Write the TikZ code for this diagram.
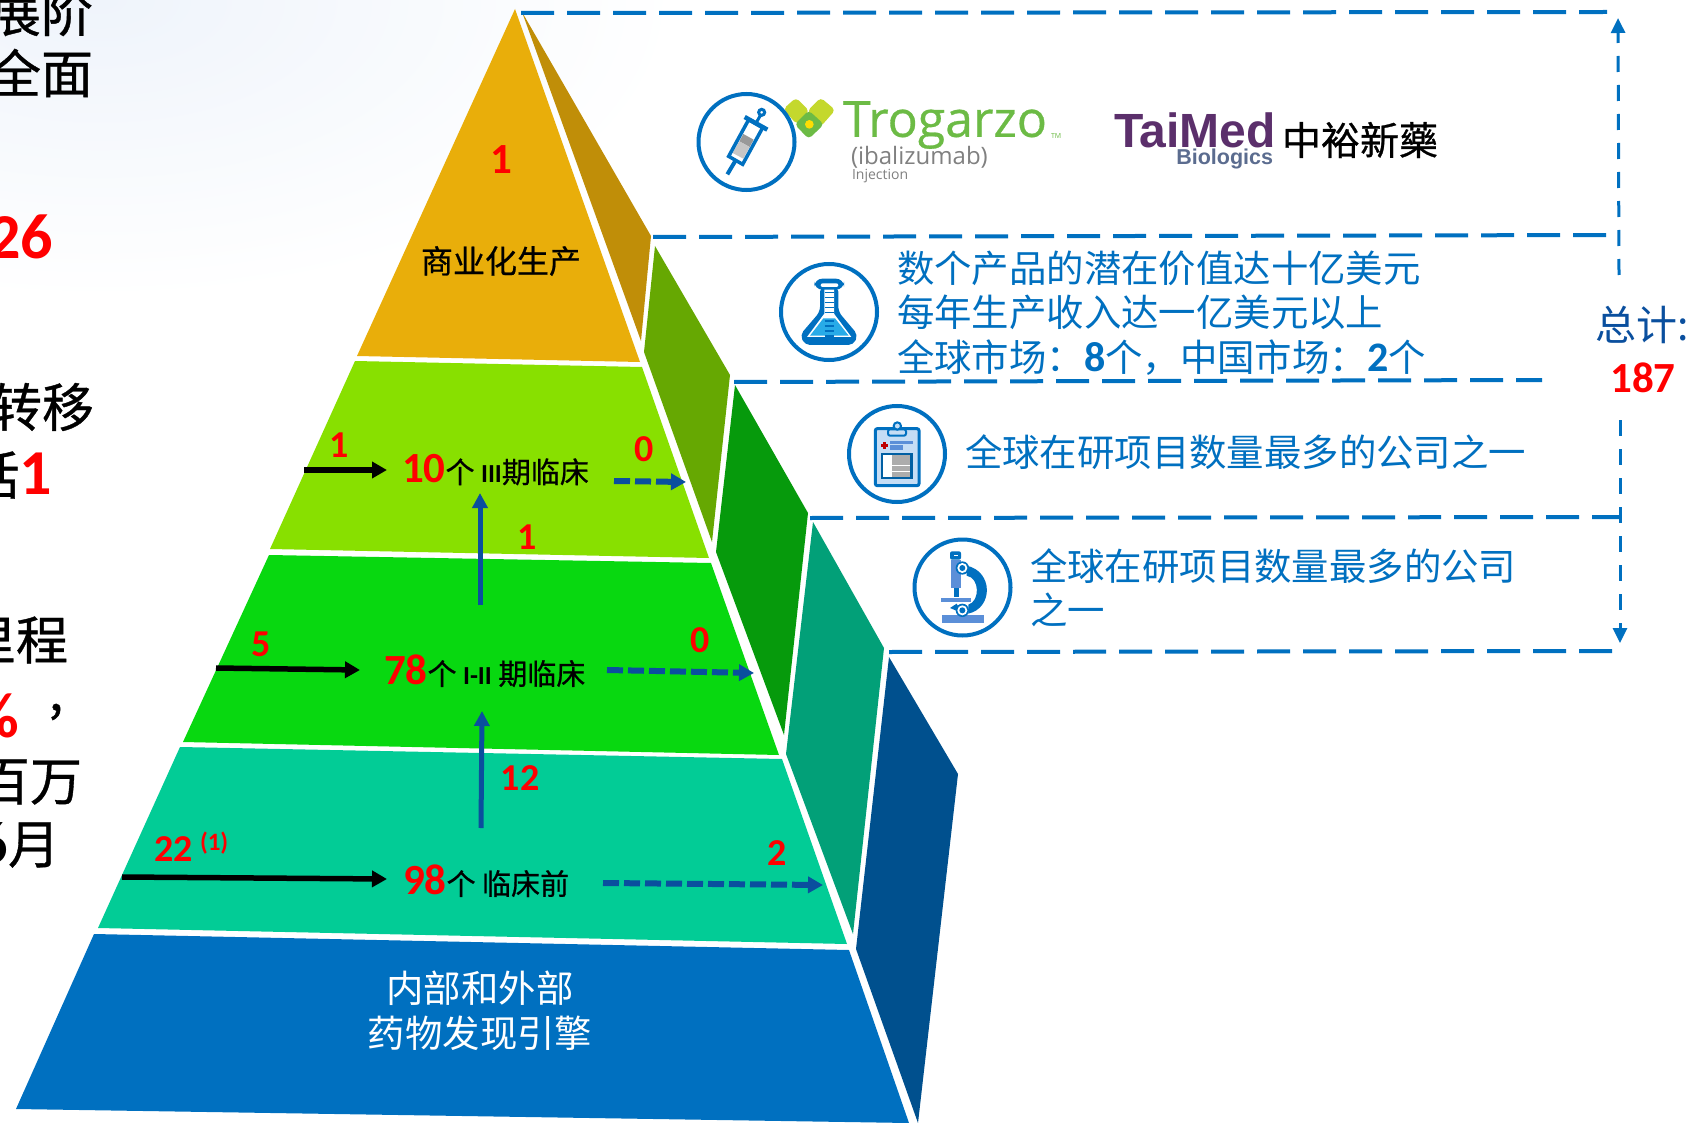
\documentclass[tikz,border=0pt]{standalone}
\usepackage{fontspec}
\usetikzlibrary{arrows.meta}
\setmainfont{Liberation Sans}
\newfontfamily\cjkf{Noto Sans CJK SC}
\newfontfamily\cjkm[FakeBold=0.7]{Noto Sans CJK SC}
\newfontfamily\numf{Carlito}
\newfontfamily\logof[FakeBold=0.6]{Open Sans}
\newfontfamily\logol{Open Sans}
\newcommand{\fsz}[1]{\fontsize{#1}{#1}\selectfont}
\definecolor{gold}{HTML}{E9AE0A}
\definecolor{goldS}{HTML}{C08E08}
\definecolor{lime}{HTML}{88E000}
\definecolor{limeS}{HTML}{66A802}
\definecolor{grn}{HTML}{08D810}
\definecolor{grnS}{HTML}{069A0C}
\definecolor{teal1}{HTML}{02CC96}
\definecolor{tealS}{HTML}{02A078}
\definecolor{blu}{HTML}{0070C0}
\definecolor{bluS}{HTML}{00508E}
\definecolor{lead}{HTML}{0070C0}
\definecolor{arr}{HTML}{0A4F9E}
\definecolor{pale}{HTML}{5B8FD8}
\definecolor{sky}{HTML}{28ABE8}
\definecolor{sheet}{HTML}{C5DDF5}
\definecolor{trog}{HTML}{6CBB45}
\definecolor{trogl}{HTML}{C4D82D}
\definecolor{tmp}{HTML}{5B2F6B}
\definecolor{tmg}{HTML}{5B6C8F}
\definecolor{haze}{HTML}{EFF4FB}
\tikzset{
  txt/.style={inner sep=0pt,outer sep=0pt},
  lefttxt/.style={txt,anchor=east,font=\cjkm\fsz{52}},
  rednum/.style={txt,text=red,font=\numf\bfseries\fsz{43}},
  rednums/.style={txt,text=red,font=\numf\bfseries\fsz{38}},
  tier/.style={txt,anchor=west,font=\cjkm\fsz{29}},
  bluetxt/.style={txt,anchor=west,text=blu,align=left,font=\cjkf\fontsize{37.4}{44.5}\selectfont},
  leader/.style={draw=lead,line width=4pt,dash pattern=on 33pt off 13pt},
  vlead/.style={draw=lead,line width=3pt,dash pattern=on 16pt off 13pt,-{Triangle[length=15pt,width=14pt]}},
  inarr/.style={draw=black,line width=5.5pt,-{Triangle[length=15pt,width=16pt]}},
  uparr/.style={draw=arr,line width=5pt,-{Triangle[length=15pt,width=15pt]}},
  outarr/.style={draw=arr,line width=6pt,dash pattern=on 16pt off 5pt,-{Triangle[length=15pt,width=16pt]}},
  ring/.style={draw=lead,line width=4pt,fill=white,circle,minimum size=96pt,inner sep=0pt},
}
\begin{document}
\begin{tikzpicture}[x=1pt,y=-1pt]
\useasboundingbox (0,0) rectangle (1697,1123);
\fill[white] (0,0) rectangle (1697,1123);
\begin{scope}
\clip (0,0) rectangle (1697,1123);
\shade[inner color=haze,outer color=white] (-480,-300) rectangle (680,300);
\end{scope}

% left, cut-off text
\node[lefttxt] (l1) at (93,12) {展阶};
\node[lefttxt] (l2) at (93,73) {全面};
\node[txt,anchor=east,text=red,font=\numf\bfseries\fsz{64}] (l3) at (53,237) {26};
\node[lefttxt] (l4) at (94,407) {转移};
\node[txt,anchor=east] (l5) at (52,475) {\cjkm\fsz{52}括{\numf\bfseries\fsz{64}\textcolor{red}{1}}};
\node[lefttxt] (l6) at (68,640) {里程};
\node[txt,anchor=east,text=red,font=\numf\bfseries\fsz{64}] (l7) at (19,716) {\%};
\node[txt,font=\cjkm\fsz{52}] (l7b) at (56,712) {,};
\node[lefttxt] (l8) at (82,782) {百万};
\node[txt,anchor=east] (l9) at (60,845) {{\numf\bfseries\fsz{60}6}{\cjkm\fsz{52}月}};

% pyramid sides
\fill[goldS] (522,12)--(651,236)--(641,341)--cycle;
\fill[limeS] (655,246)--(730,375)--(712,542)--(644,352)--cycle;
\fill[grnS] (735,385)--(808,513)--(784,735)--(716,552)--cycle;
\fill[tealS] (813,522)--(884,648)--(853,934)--(786,754)--cycle;
\fill[bluS] (889,657)--(958,774)--(918,1123)--(856,949)--cycle;
% pyramid fronts
\fill[gold] (515,9)--(640,362)--(357,356)--cycle;
\fill[lime] (355,361)--(642,367)--(709,558)--(270,549)--cycle;
\fill[grn] (269,555)--(711,563)--(779,755)--(183,742)--cycle;
\fill[teal1] (180,747)--(782,759)--(847,944)--(98,928)--cycle;
\fill[blu] (94,934)--(849,950)--(909,1123)--(16,1109)--cycle;

% leaders
\coordinate (a1) at (521,13); \coordinate (a2) at (1607,12);
\coordinate (b1) at (653,237); \coordinate (b2) at (1618,235);
\coordinate (c1) at (734,382); \coordinate (c2) at (1542,380);
\coordinate (d1) at (810,518); \coordinate (d2) at (1620,517);
\coordinate (e1) at (889,652); \coordinate (e2) at (1620,651);
\draw[leader] (a1)--(a2);
\draw[leader] (b1)--(b2);
\draw[leader] (c1)--(c2);
\draw[leader] (d1)--(d2);
\draw[leader] (e1)--(e2);
\coordinate (u1) at (1619,275); \coordinate (u2) at (1618,18);
\coordinate (v1) at (1620,420); \coordinate (v2) at (1620,643);
\draw[vlead] (u1)--(u2);
\draw[vlead] (v1)--(v2);
\node[txt,text=arr,anchor=west,font=\cjkf\fsz{41}] (total) at (1595,325) {总计:};
\node[rednum] (sum) at (1643,378) {187};

% pyramid texts
\node[rednum] (n1) at (501,160) {1};
\node[txt,font=\cjkm\fsz{32}] (comm) at (501,261) {商业化生产};

\node[rednums] (n2) at (339,445) {1};
\node[tier] (t3) at (402,470) {{\numf\bfseries\fsz{43}\textcolor{red}{10}}个 {\numf\bfseries\fsz{26}III}期临床};
\node[rednums] (n3) at (644,449) {0};
\node[rednums] (n4) at (527,537) {1};

\node[rednums] (n5) at (261,644) {5};
\node[tier] (t2) at (384,671) {{\numf\bfseries\fsz{43}\textcolor{red}{78}}个 {\numf\bfseries\fsz{26}I-II} 期临床};
\node[rednums] (n6) at (700,640) {0};
\node[rednums] (n7) at (520,778) {12};

\node[rednums,anchor=west] (n8) at (154,849) {22};
\node[txt,anchor=west,text=red,font=\numf\bfseries\fsz{25}] (n8b) at (200,843) {(1)};
\node[tier] (t1) at (403,881) {{\numf\bfseries\fsz{43}\textcolor{red}{98}}个 临床前};
\node[rednums] (n9) at (777,853) {2};

\node[txt,text=white,align=center,font=\cjkf\fontsize{37.4}{44.5}\selectfont] (base) at (480,1011) {内部和外部\\药物发现引擎};

% tier arrows
\coordinate (i3a) at (304,470); \coordinate (i3b) at (387,470);
\coordinate (i2a) at (216,668); \coordinate (i2b) at (360,670);
\coordinate (i1a) at (122,877); \coordinate (i1b) at (387,879);
\draw[inarr] (i3a)--(i3b);
\draw[inarr] (i2a)--(i2b);
\draw[inarr] (i1a)--(i1b);
\coordinate (p1a) at (480,605); \coordinate (p1b) at (480,493);
\coordinate (p2a) at (481,828); \coordinate (p2b) at (482,711);
\draw[uparr] (p1a)--(p1b);
\draw[uparr] (p2a)--(p2b);
\coordinate (o3a) at (614,481); \coordinate (o3b) at (686,482);
\coordinate (o2a) at (607,670); \coordinate (o2b) at (754,673);
\coordinate (o1a) at (603,883); \coordinate (o1b) at (823,885);
\draw[outarr] (o3a)--(o3b);
\draw[outarr] (o2a)--(o2b);
\draw[outarr] (o1a)--(o1b);

% blue texts
\node[bluetxt] (flaskt) at (897,313) {数个产品的潜在价值达十亿美元\\每年生产收入达一亿美元以上\\全球市场^^^^ff1a{\numf\bfseries\fsz{42}8}个^^^^ff0c中国市场^^^^ff1a{\numf\bfseries\fsz{42}2}个};
\node[bluetxt] (clipt) at (965,452) {全球在研项目数量最多的公司之一};
\node[bluetxt] (microt) at (1030,588) {全球在研项目数量最多的公司\\之一};

% logos
\begin{scope}[shift={(690,85)},scale=1/3]
\fill[trogl,rounded corners=4pt] (280,72)--(318,38)--(358,78)--(320,118)--cycle;
\fill[trogl,rounded corners=4pt] (352,78)--(392,38)--(436,75)--(392,125)--cycle;
\fill[trog,rounded corners=4pt] (356,76)--(402,118)--(356,162)--(314,118)--cycle;
\fill[yellow!80!orange] (358,118) circle (13);
\end{scope}
\node[txt,anchor=west,text=trog,font=\logof\fsz{50}] (trogarzo) at (843,125) {Trogarzo};
\node[txt,anchor=west,text=trog,font=\logol\fsz{7}] (tm) at (1051,136) {TM};
\node[txt,anchor=west,text=gray,font=\logol\fsz{24}] (ibal) at (851,157) {(ibalizumab)};
\node[txt,anchor=west,text=gray,font=\logol\fsz{14}] (inj) at (852,176) {Injection};
\node[txt,anchor=west,text=tmp,font=\bfseries\fsz{48}] (taimed) at (1114,130) {TaiMed};
\node[txt,anchor=east,text=tmg,font=\bfseries\fsz{21.5}] (biol) at (1273,159) {Biologics};
\node[txt,anchor=west,font=\cjkm\fsz{39}] (zyxy) at (1282,140) {中裕新藥};

% icon: syringe
\node[ring] (ic1) at (746.5,142) {};
\begin{scope}[shift={(690,85)},scale=1/3]
\draw[lead,line width=4pt] (137,226)--(112,268);
\draw[lead,line width=3pt] (197,116)--(212,90);
\draw[lead,line width=3pt,fill=white] (215,82) circle (9);
\fill[gray!80] (148,169)--(179,186)--(191,164)--(160,147)--cycle;
\fill[gray!45] (128,204)--(160,221)--(179,186)--(148,169)--cycle;
\draw[lead,line width=3.5pt] (116,214)--(158,238)--(218,128)--(176,104)--cycle;
\draw[lead,line width=4.5pt] (164,96)--(232,134);
\end{scope}

% icon: flask
\node[ring] (ic2) at (829,312) {};
\begin{scope}[shift={(770,255)},scale=1/3]
\fill[lead,rounded corners=5pt] (150,95)--(205,95)--(205,170)--(264,240)--(250,270)--(105,270)--(90,240)--(150,170)--cycle;
\fill[white] (163,100)--(192,100)--(192,176)--(244,246)--(111,246)--(163,176)--cycle;
\fill[sky] (160,190)--(195,190)--(236,242)--(120,242)--cycle;
\fill[lead,rounded corners=8pt] (133,71) rectangle (222,104);
\fill[white,rounded corners=2pt] (152,85) rectangle (205,96);
\foreach \yy in {112,127,142,157,172,198,213,228,243}
  \draw[lead,line width=1.6pt] (164,\yy)--(191,\yy);
\end{scope}

% icon: clipboard
\node[ring] (ic3) at (897,454) {};
\begin{scope}[shift={(840,400)},scale=1/3]
\draw[lead,line width=3pt,fill=sheet,rounded corners=2pt] (106,86) rectangle (237,257);
\draw[lead,line width=2pt,fill=sheet,rounded corners=2pt] (144,88) rectangle (198,107);
\draw[lead,line width=2pt,fill=sheet] (172,78) circle (11);
\fill[red!75!black] (128,126) rectangle (138,146);
\fill[red!75!black] (123,131) rectangle (144,141);
\fill[pale] (150,123) rectangle (218,132);
\fill[pale] (150,136) rectangle (188,150);
\fill[blu!85!black] (123,158) rectangle (218,237);
\fill[white] (130,165) rectangle (157,232);
\fill[gray!65] (157,165) rectangle (210,232);
\fill[white] (130,195) rectangle (210,198);
\fill[white] (130,212) rectangle (210,215);
\end{scope}

% icon: microscope
\node[ring] (ic4) at (962.5,587.5) {};
\begin{scope}[shift={(905,533)},scale=1/3]
\fill[lead] (185,98) .. controls (265,115) and (265,225) .. (190,242) -- (190,215) .. controls (225,205) and (225,135) .. (185,128) -- cycle;
\fill[pale] (138,80) rectangle (168,165);
\fill[lead] (147,165) rectangle (162,192);
\fill[lead,rounded corners=2pt] (135,55) rectangle (168,80);
\fill[white] (147,66) rectangle (160,70);
\fill[pale] (108,195) rectangle (198,207);
\fill[pale] (110,245) rectangle (236,270);
\fill[lead] (135,225)--(155,212)--(170,240)--cycle;
\foreach \cy in {105,232}{
  \fill[lead] (172,\cy) circle (20);
  \fill[white] (172,\cy) circle (15);
  \fill[lead] (172,\cy) circle (9);
}
\end{scope}
\end{tikzpicture}
\end{document}
